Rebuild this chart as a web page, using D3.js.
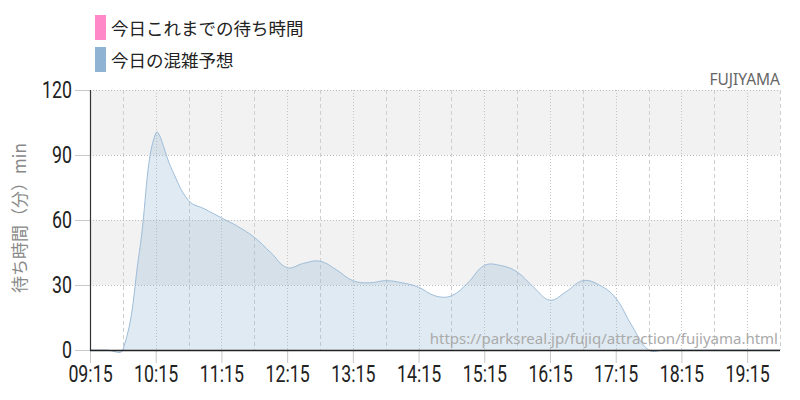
<!DOCTYPE html>
<html><head><meta charset="utf-8">
<script src="https://cdn.jsdelivr.net/npm/d3@7"></script>
<style>
html,body{margin:0;padding:0;background:#fff;}
svg{display:block;}
</style></head>
<body>
<svg id="c" width="800" height="400"></svg>
<script>
// ---- data ----
const times = ["09:15","09:30","09:45","10:00","10:15","10:30","10:45","11:00","11:15","11:30","11:45","12:00","12:15","12:30","12:45","13:00","13:15","13:30","13:45","14:00","14:15","14:30","14:45","15:00","15:15","15:30","15:45","16:00","16:15","16:30","16:45","17:00","17:15","17:30","17:45","18:00","18:15","18:30","18:45","19:00","19:15","19:30","19:45"];
const forecast = [0,0,0,45,100,83,69,65,61,57,52,45,38,40,41,37,32,31,32,31,29,25,25,31,39,39,36,29,23,27,32,30,24,11,0,0,0,0,0,0,0,0,0];
const xTickLabels = ["09:15","10:15","11:15","12:15","13:15","14:15","15:15","16:15","17:15","18:15","19:15"];
const yTicks = [0,30,60,90,120];
const legendLabels = ["今日これまでの待ち時間","今日の混雑予想"];
const legendColors = ["#ff88c8","#8fb3d3"];
const attractionName = "FUJIYAMA";
const yTitle = "待ち時間（分）min";
const sourceUrl = "https://parksreal.jp/fujiq/attraction/fujiyama.html";
const domainStart = "09:15", domainEnd = "19:45";

// ---- helpers ----
const toMin = s => { const [h,m] = s.split(":").map(Number); return h*60+m; };

// tension spline (tension 0.4) built from scaled pixel points
function splinePath(P, t) {
  const n = P.length, cp = [];
  for (let i = 0; i < n; i++) {
    const prev = P[Math.max(i-1,0)], cur = P[i], next = P[Math.min(i+1,n-1)];
    const d01 = Math.hypot(cur[0]-prev[0], cur[1]-prev[1]);
    const d12 = Math.hypot(next[0]-cur[0], next[1]-cur[1]);
    let s01 = d01/(d01+d12), s12 = d12/(d01+d12);
    if (!isFinite(s01)) s01 = 0; if (!isFinite(s12)) s12 = 0;
    const fa = t*s01, fb = t*s12;
    cp.push({px: cur[0]-fa*(next[0]-prev[0]), py: cur[1]-fa*(next[1]-prev[1]),
             nx: cur[0]+fb*(next[0]-prev[0]), ny: cur[1]+fb*(next[1]-prev[1])});
  }
  const p = d3.path();
  p.moveTo(P[0][0], P[0][1]);
  for (let i = 1; i < n; i++) {
    p.bezierCurveTo(cp[i-1].nx, cp[i-1].ny, cp[i].px, cp[i].py, P[i][0], P[i][1]);
  }
  return p.toString();
}

const svg = d3.select("#c");
const L = 90, R = 780, T = 90, B = 350;
const x = d3.scaleLinear().domain([toMin(domainStart), toMin(domainEnd)]).range([L, R]);
const y = d3.scaleLinear().domain([0,120]).range([B, T]);
const numFont = "Roboto, sans-serif";
const sx = 0.74;

// background bands
const bands = [[90,120],[30,60]];
svg.append("g").selectAll("rect").data(bands).join("rect")
  .attr("x", L).attr("width", R-L)
  .attr("y", d => y(d[1])).attr("height", d => y(d[0]) - y(d[1]))
  .attr("fill", "#f2f2f2");

// vertical grid: hour (dotted) and half hour (dashed)
const minorTicks = d3.range(toMin(domainStart)+30, toMin(domainEnd)+1, 60);
const majorTicks = xTickLabels.map(toMin);
svg.append("g").selectAll("line").data(minorTicks).join("line")
  .attr("x1", d => Math.round(x(d))+0.5).attr("x2", d => Math.round(x(d))+0.5)
  .attr("y1", T).attr("y2", B)
  .attr("stroke", "#cfcfcf").attr("stroke-dasharray", "4,3");
svg.append("g").selectAll("line").data(majorTicks.slice(1)).join("line")
  .attr("x1", d => Math.round(x(d))+0.5).attr("x2", d => Math.round(x(d))+0.5)
  .attr("y1", T).attr("y2", B)
  .attr("stroke", "#c4c4c4").attr("stroke-dasharray", "1,2");

// horizontal grid
svg.append("g").selectAll("line").data(yTicks.slice(1)).join("line")
  .attr("x1", L).attr("x2", R)
  .attr("y1", d => Math.round(y(d))+0.5).attr("y2", d => Math.round(y(d))+0.5)
  .attr("stroke", "#bdbdbd").attr("stroke-dasharray", "1,2");

// area
const P = times.map((t,i) => [x(toMin(t)), y(forecast[i])]);
const linePath = splinePath(P, 0.4);
svg.append("path")
  .attr("d", linePath + `L${P[P.length-1][0]},${y(0)}L${P[0][0]},${y(0)}Z`)
  .attr("fill", "#8fb3d3").attr("fill-opacity", 0.28);
svg.append("path").attr("d", linePath)
  .attr("fill", "none").attr("stroke", "#9ebdd9").attr("stroke-width", 1);

// watermark
svg.append("text").attr("x", 778).attr("y", 344).attr("text-anchor", "end")
  .attr("font-family", "'Noto Sans','Open Sans',sans-serif").attr("font-size", 15)
  .attr("fill", "#aaaaaa").text(sourceUrl);

// y axis
const yAxis = d3.axisLeft(y).tickValues(yTicks).tickSize(15).tickPadding(3).tickFormat(d3.format("d"));
const gy = svg.append("g").attr("transform", `translate(${L},0)`).call(yAxis);
gy.select(".domain").remove();
gy.selectAll(".tick line").attr("stroke", "#c8c8c8");
gy.selectAll(".tick text").attr("x", -18/sx).attr("transform", `scale(${sx},1)`)
  .attr("font-family", numFont).attr("font-size", 24).attr("fill", "#222");

// x axis
const xAxis = d3.axisBottom(x).tickValues(majorTicks).tickSize(13).tickPadding(2)
  .tickFormat((d,i) => xTickLabels[i]);
const gx = svg.append("g").attr("transform", `translate(0,${B})`).call(xAxis);
gx.select(".domain").remove();
gx.selectAll(".tick line").attr("stroke", "#c8c8c8");
gx.selectAll(".tick text").attr("transform", `scale(${sx},1)`)
  .attr("font-family", numFont).attr("font-size", 24).attr("fill", "#222");

// axis lines
svg.append("line").attr("x1", L+0.5).attr("x2", L+0.5).attr("y1", T).attr("y2", B)
  .attr("stroke", "#333").attr("stroke-width", 1.2);
svg.append("line").attr("x1", L).attr("x2", R).attr("y1", B+0.5).attr("y2", B+0.5)
  .attr("stroke", "#222").attr("stroke-width", 1.5);

// y title
svg.append("text").attr("transform", `translate(26,218) rotate(-90)`)
  .attr("text-anchor", "middle").attr("font-family", "'Noto Sans CJK JP',sans-serif")
  .attr("font-size", 17).attr("fill", "#888").text(yTitle);

// attraction name
svg.append("text").attr("x", 780).attr("y", 85).attr("text-anchor", "end")
  .attr("font-family", "'Noto Sans','Open Sans',sans-serif").attr("font-size", 15.5)
  .attr("fill", "#666").text(attractionName);

// legend
const lg = svg.append("g").selectAll("g").data(legendLabels).join("g")
  .attr("transform", (d,i) => `translate(95,${15 + i*32})`);
lg.append("rect").attr("width", 11).attr("height", 25).attr("fill", (d,i) => legendColors[i]);
lg.append("text").attr("x", 16).attr("y", 20)
  .attr("font-family", "'Noto Sans CJK JP',sans-serif").attr("font-size", 17.5)
  .attr("fill", "#222").text(d => d);
</script>
</body></html>
